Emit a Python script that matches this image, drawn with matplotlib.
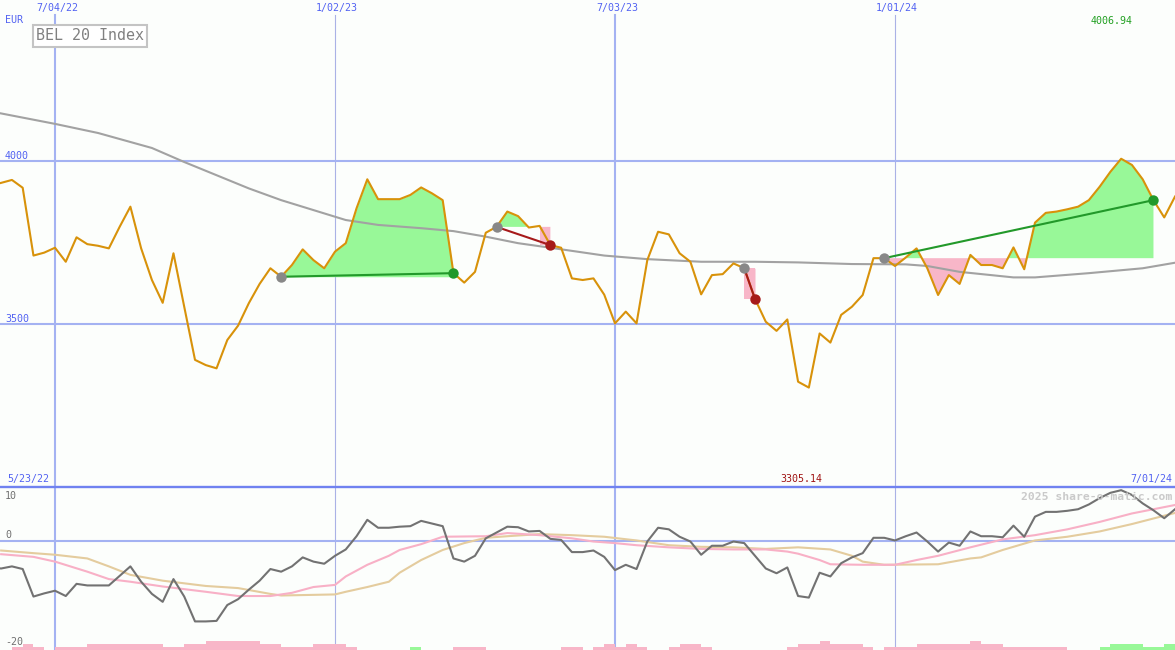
import matplotlib
matplotlib.use('Agg')
import matplotlib.pyplot as plt
import matplotlib.dates as mdates
import numpy as np
import pandas as pd
from matplotlib.lines import Line2D

# weekly data, 5/23/22 .. 7/01/24
week_dates = pd.date_range('2022-05-23', '2024-07-01', freq='7D')

close = [3925, 3933, 3942, 3918, 3710, 3719, 3734, 3691, 3766, 3745,
         3740, 3732, 3798, 3860, 3732, 3635, 3565, 3717, 3553, 3390,
         3374, 3364, 3451, 3495, 3564, 3623, 3671, 3645, 3681, 3729,
         3696, 3671, 3722, 3748, 3855, 3944, 3883, 3883, 3883, 3896,
         3919, 3901, 3880, 3656, 3627, 3660, 3780, 3798, 3845, 3831,
         3796, 3801, 3742, 3734, 3640, 3635, 3640, 3590, 3502, 3538,
         3502, 3696, 3783, 3775, 3717, 3691, 3591, 3650, 3653, 3686,
         3671, 3577, 3507, 3479, 3514, 3323, 3305, 3471, 3443, 3528,
         3553, 3589, 3702, 3702, 3678, 3704, 3732, 3671, 3589, 3650,
         3623, 3712, 3681, 3681, 3671, 3735, 3668, 3811, 3841, 3845,
         3852, 3860, 3880, 3921, 3967, 4007, 3988, 3944, 3880, 3827,
         3891]

# slow moving average (read at selected weeks)
ma_idx = [0, 1, 6, 10, 15, 18, 24, 27, 33, 36, 40, 43, 46, 49, 52, 57, 61, 66,
          71, 75, 80, 85, 87, 90, 95, 97, 102, 107, 110]
ma_vals = [4152, 4146, 4114, 4086, 4040, 3997, 3916, 3880, 3819, 3804, 3794,
           3785, 3768, 3748, 3734, 3710, 3699, 3691, 3691, 3689, 3684, 3683,
           3678, 3660, 3643, 3643, 3656, 3671, 3688]

# trades: entry week, exit week, won?
trades = [(27, 43, True), (47, 52, False), (70, 71, False), (83, 108, True)]

# lower panel oscillator
osc = [-5.0, -5.2, -4.8, -5.3, -10.5, -9.9, -9.4, -10.4, -8.1, -8.4,
       -8.4, -8.4, -6.6, -4.8, -7.7, -10.0, -11.5, -7.2, -10.5, -15.2,
       -15.2, -15.1, -12.1, -11.0, -9.2, -7.5, -5.3, -5.8, -4.8, -3.1,
       -3.9, -4.3, -2.8, -1.6, 0.9, 4.0, 2.5, 2.5, 2.7, 2.8,
       3.8, 3.3, 2.8, -3.3, -3.9, -2.8, 0.5, 1.6, 2.7, 2.6,
       1.8, 1.9, 0.4, 0.2, -2.1, -2.1, -1.8, -3.0, -5.5, -4.5,
       -5.3, -0.1, 2.5, 2.2, 0.8, -0.1, -2.6, -0.9, -0.9, -0.1,
       -0.4, -2.8, -5.2, -6.1, -5.0, -10.4, -10.7, -6.0, -6.7, -4.2,
       -3.1, -2.3, 0.6, 0.6, 0.1, 0.9, 1.6, -0.1, -2.0, -0.3,
       -0.9, 1.8, 0.9, 0.9, 0.7, 2.9, 0.8, 4.6, 5.5, 5.5,
       5.7, 6.0, 6.9, 8.1, 9.1, 9.6, 8.7, 7.1, 5.8, 4.3,
       6.0]

pink_idx = [1, 4, 6, 9, 11, 13, 16, 20, 23, 26, 28, 30, 32, 33, 35, 37, 38, 40,
            42, 46, 48, 51, 54, 56, 58, 60, 63, 66, 69, 72, 74, 75, 77, 78, 81,
            84, 86, 88, 91, 94, 97, 100, 103, 106, 110]
pink_vals = [-2.5, -3.0, -3.9, -5.8, -7.2, -7.7, -8.6, -9.6, -10.4, -10.4,
             -9.8, -8.7, -8.3, -6.7, -4.5, -2.8, -1.7, -0.6, 0.8, 0.9,
             1.5, 1.1, 0.5, -0.1, -0.4, -0.8, -1.2, -1.5, -1.6, -1.6,
             -2.0, -2.4, -3.6, -4.4, -4.5, -4.5, -3.6, -2.8, -1.2, 0.3,
             1.1, 2.2, 3.6, 5.2, 6.8]

tan_idx = [1, 4, 6, 9, 11, 13, 16, 20, 23, 26, 27, 32, 33, 35, 37, 38, 40, 42,
           44, 46, 48, 51, 54, 57, 60, 63, 66, 69, 72, 75, 78, 80, 81, 83, 88,
           91, 92, 94, 97, 100, 103, 106, 110]
tan_vals = [-1.8, -2.3, -2.6, -3.3, -4.8, -6.4, -7.5, -8.5, -8.9, -10.0,
            -10.3, -10.1, -9.6, -8.7, -7.7, -6.0, -3.6, -1.7, -0.4, 0.6,
            0.9, 1.3, 1.1, 0.8, 0.1, -0.8, -1.1, -1.2, -1.5, -1.2,
            -1.6, -2.8, -3.9, -4.5, -4.4, -3.3, -3.1, -1.7, 0.1, 0.8,
            1.8, 3.2, 5.3]

# weekly signal bars (negative = pink, positive = green)
signal = [0, 0, -1, -2, -1, 0, -1, -1, -1, -2,
          -2, -2, -2, -2, -2, -2, -1, -1, -2, -2,
          -3, -3, -3, -3, -3, -2, -2, -1, -1, -1,
          -2, -2, -2, -1, 0, 0, 0, 0, 0, 1,
          0, 0, 0, -1, -1, -1, 0, 0, 0, 0,
          0, 0, 0, -1, -1, 0, -1, -2, -1, -2,
          -1, 0, 0, -1, -2, -2, -1, 0, 0, 0,
          0, 0, 0, 0, -1, -2, -2, -3, -2, -2,
          -2, -1, 0, -1, -1, -1, -2, -2, -2, -2,
          -2, -3, -2, -2, -1, -1, -1, -1, -1, -1,
          0, 0, 0, 1, 2, 2, 2, 1, 1, 2,
          0]

vlines = ['2022-07-04', '2023-01-02', '2023-07-03', '2024-01-01']
vline_labels = ['7/04/22', '1/02/23', '7/03/23', '1/01/24']

W, H = 1175, 650
bg = '#fcfefc'
blue = '#a4b2f2'
label_blue = '#5262f2'
mono = 'DejaVu Sans Mono'

x = mdates.date2num(week_dates.to_pydatetime())
close = np.array(close, dtype=float)
week = 7.0
left = mdates.date2num(pd.Timestamp('2022-07-04')) - week * 55 / (280 / 26)
right = mdates.date2num(pd.Timestamp('2024-07-01'))

fig = plt.figure(figsize=(W / 100, H / 100), dpi=100, facecolor=bg)
ax = fig.add_axes([0, 163 / H, 1, 487 / H])
ax2 = fig.add_axes([0, 0, 1, 163 / H])
for a in (ax, ax2):
    a.set_xlim(left, right)
    a.axis('off')
ax.set_ylim(3000, 4494)
ax2.set_ylim(-20.6, 10.2)

# grid
for d, lab in zip(vlines, vline_labels):
    xv = mdates.date2num(pd.Timestamp(d))
    july = d[5:7] == '07'
    lw = 1.5 if july else 0.8
    col = blue if july else '#aab2e6'
    ax.axvline(xv, ymin=0, ymax=(487 - 15) / 487, color=col, lw=lw, zorder=1)
    ax2.axvline(xv, color=col, lw=lw, zorder=1)
for lvl in (4000, 3500):
    ax.axhline(lvl, color=blue, lw=1.5, zorder=1)
ax2.axhline(0, color=blue, lw=1.5, zorder=1)

# trade shading
green_fill = '#98f898'
pink_fill = '#f8b6c8'
for i0, i1, won in trades:
    base = close[i0]
    xs = x[i0:i1 + 1]
    ys = close[i0:i1 + 1]
    ax.fill_between(xs, ys, base, where=ys >= base, interpolate=True,
                    color=green_fill, lw=0, zorder=2)
    ax.fill_between(xs, ys, base, where=ys < base, interpolate=True,
                    color=pink_fill, lw=0, zorder=2)
    if not won:
        ax.fill_between([x[i1 - 1], x[i1]], base, close[i1],
                        color=pink_fill, lw=0, zorder=2)

# lines
ax.plot(x[ma_idx], ma_vals, color='#a2a2a2', lw=1.5, zorder=3)
ax.plot(x, close, color='#d8920a', lw=1.5, zorder=4)

for i0, i1, won in trades:
    col = '#22992a' if won else '#a61a1a'
    ax.plot([x[i0], x[i1]], [close[i0], close[i1]], color=col, lw=1.5, zorder=5)
    ax.plot(x[i0], close[i0], 'o', color='#888888', ms=7.5, mew=0, zorder=6)
    ax.plot(x[i1], close[i1], 'o', color=col, ms=7.5, mew=0, zorder=6)

# lower panel
sig = np.array(signal)
unit = 3 / (163 / 30.8)
bar_cols = [green_fill if s > 0 else pink_fill for s in sig]
ax2.bar(x, np.abs(sig) * unit, width=week, align='edge', bottom=-20.6,
        color=bar_cols, lw=0, zorder=2)
ax2.plot(x[tan_idx], tan_vals, color='#e4cc9e', lw=1.5, zorder=3)
ax2.plot(x[pink_idx], pink_vals, color='#f8b0c6', lw=1.5, zorder=4)
ax2.plot(x, osc, color='#727272', lw=1.5, zorder=5)

fig.add_artist(Line2D([0, 1], [1 - 487 / H] * 2, transform=fig.transFigure,
                      color='#7082f0', lw=1.7))


def px_text(px, py, s, **kw):
    fig.text(px / W, 1 - py / H, s, va='center', family=mono, **kw)


for d, lab in zip(vlines, vline_labels):
    xv = mdates.date2num(pd.Timestamp(d))
    px = (xv - left) / (right - left) * W
    px_text(px + 2, 8, lab, ha='center', fontsize=7.2, color=label_blue)

px_text(5, 20, 'EUR', fontsize=7.2, color=label_blue)
px_text(5, 156, '4000', fontsize=7.2, color=label_blue)
px_text(5, 319, '3500', fontsize=7.2, color=label_blue)
px_text(36, 36, 'BEL 20 Index', fontsize=10.8, color='#808080',
        bbox=dict(boxstyle='square,pad=0.22', fc='white', ec='#c4c4c4', lw=1.5))
px_text(1112, 21, '%.2f' % 4006.94, ha='center', fontsize=7.2, color='#22a022')
px_text(7, 479, '5/23/22', fontsize=7.2, color=label_blue)
px_text(801, 479, '%.2f' % 3305.14, ha='center', fontsize=7.2, color='#a01414')
px_text(1172, 479, '7/01/24', ha='right', fontsize=7.2, color=label_blue)
px_text(5, 496, '10', fontsize=7.2, color='#707070')
px_text(5, 535, '0', fontsize=7.2, color='#707070')
px_text(5, 642, '-20', fontsize=7.2, color='#707070')
px_text(1172, 497, '2025 share-o-matic.com', ha='right', fontsize=8.2,
        fontweight='bold', color='#cacaca')

fig.savefig('out.png', dpi=100, facecolor=bg)
